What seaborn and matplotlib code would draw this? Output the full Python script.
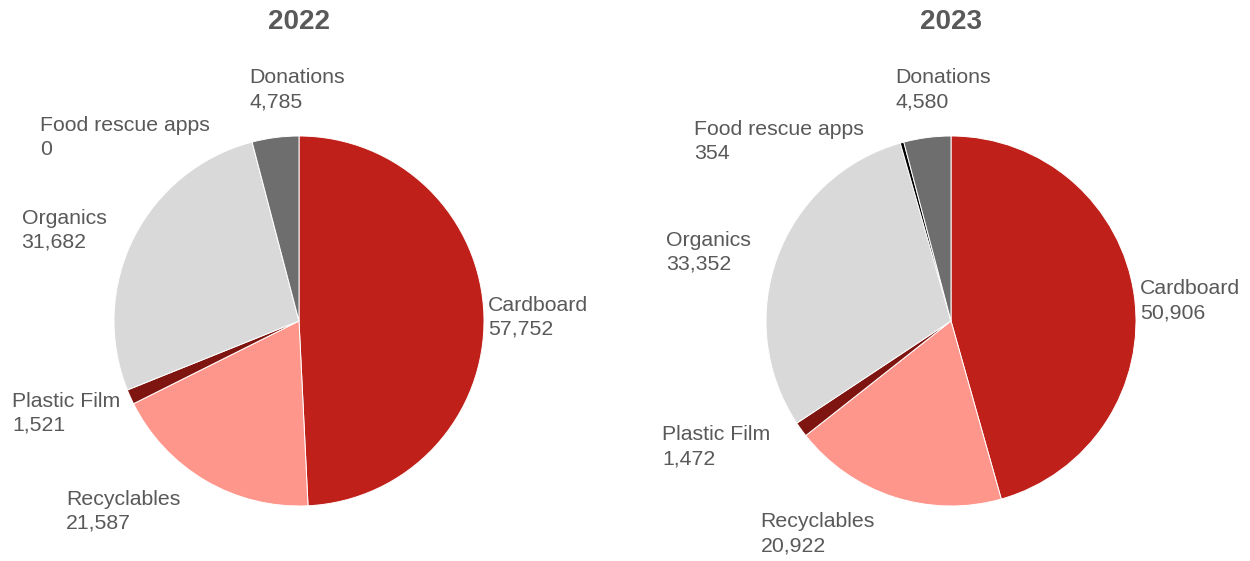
import matplotlib
matplotlib.use("Agg")
import matplotlib.pyplot as plt
import seaborn as sns

# ---------------------------------------------------
# Daten
# ---------------------------------------------------
categories = ["Cardboard", "Recyclables", "Plastic Film", "Organics",
              "Food rescue apps", "Donations"]
values_2022 = [57752, 21587, 1521, 31682, 0, 4785]
values_2023 = [50906, 20922, 1472, 33352, 354, 4580]
years = ["2022", "2023"]

# Farben pro Kategorie
colors = sns.color_palette(["#C0201A", "#FF968C", "#7F1510", "#D9D9D9",
                            "#000000", "#6E6E6E"])

# Label-Anker (links, vertikal mittig) relativ zum Mittelpunkt, in Radien
label_pos_2022 = [(1.02, 0.02), (-1.26, -1.03), (-1.55, -0.50),
                  (-1.50, 0.49), (-1.40, 0.99), (-0.27, 1.25)]
label_pos_2023 = [(1.02, 0.11), (-1.03, -1.15), (-1.56, -0.68),
                  (-1.54, 0.37), (-1.39, 0.97), (-0.30, 1.25)]

sns.set_theme(style="white")
plt.rcParams["font.family"] = ["Liberation Sans", "DejaVu Sans"]

fig = plt.figure(figsize=(12.5, 5.61), dpi=100)

R_PX = 185.0
panels = [
    (values_2022, label_pos_2022, years[0], [0.0, 0.0, 0.5, 1.0], 299, 321),
    (values_2023, label_pos_2023, years[1], [0.5, 0.0, 0.5, 1.0], 326, 321),
]

for vals, lpos, year, rect, cx, cy in panels:
    ax = fig.add_axes(rect)
    ax.pie(vals, colors=colors, startangle=90, counterclock=False,
           radius=1.0, wedgeprops=dict(edgecolor="white", linewidth=0.7))
    # Achsenbereich so, dass der Kreis an der richtigen Stelle liegt
    w_px, h_px = 625.0, 561.0
    ax.set_xlim(-cx / R_PX, (w_px - cx) / R_PX)
    ax.set_ylim(-(h_px - cy) / R_PX, cy / R_PX)
    ax.set_aspect("equal")
    ax.axis("off")

    for cat, v, (lx, ly) in zip(categories, vals, lpos):
        ax.text(lx, ly, f"{cat}\n{v:,}", ha="left", va="center",
                fontsize=15.3, color="#595959", linespacing=1.32)

    ax.text(0, (cy - 22) / R_PX, year, ha="center", va="center",
            fontsize=20, fontweight="bold", color="#595959")

fig.savefig("out.png", dpi=100)
